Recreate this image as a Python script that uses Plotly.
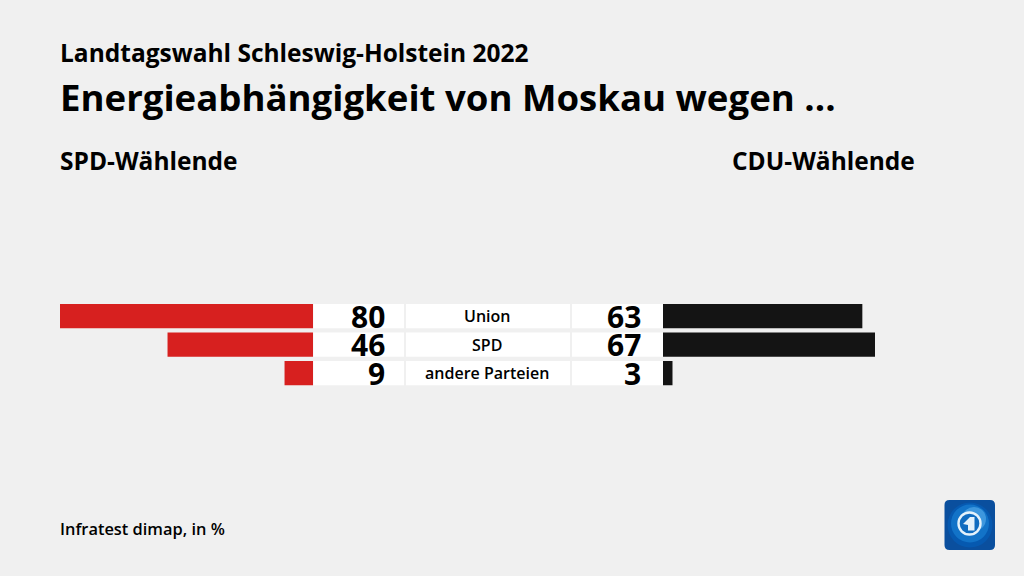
import plotly.graph_objects as go

categories = ["Union", "SPD", "andere Parteien"]
spd_values = [80, 46, 9]
cdu_values = [63, 67, 3]
title_top = "Landtagswahl Schleswig-Holstein 2022"
title_main = "Energieabhängigkeit von Moskau wegen ..."
left_head = "SPD-Wählende"
right_head = "CDU-Wählende"
source = "Infratest dimap, in %"

W, H = 1024, 576
FONT = "Open Sans"
BG = "#f0f0f0"


def px(x):
    return x / W


def py(y):
    return 1 - y / H


fig = go.Figure()
fig.add_trace(go.Bar(y=categories, x=spd_values, orientation="h", xaxis="x", yaxis="y",
                     marker=dict(color="#d7201f", line_width=0), showlegend=False, hoverinfo="skip"))
fig.add_trace(go.Bar(y=categories, x=cdu_values, orientation="h", xaxis="x2", yaxis="y",
                     marker=dict(color="#141414", line_width=0), showlegend=False, hoverinfo="skip"))

shapes = []
annotations = []


def text(x, y, s, size, weight=600, anchor="left", xref="paper", yref="paper", color="#000000"):
    annotations.append(dict(x=x, y=y, text=s, xref=xref, yref=yref, showarrow=False,
                            xanchor=anchor, yanchor="middle", align=anchor,
                            borderpad=0, borderwidth=0,
                            font=dict(family=FONT, size=size, color=color, weight=weight)))


# white cells behind the numbers and labels
for i, cat in enumerate(categories):
    for x0, x1 in [(313.5, 404), (406, 570), (572, 663)]:
        shapes.append(dict(type="rect", xref="paper", yref="y", layer="below",
                           x0=px(x0), x1=px(x1), y0=i - 0.423, y1=i + 0.423,
                           fillcolor="#ffffff", line_width=0))
    text(px(487), cat, cat, 16, 600, "center", yref="y")
    text(px(385), cat, str(spd_values[i]), 30, 700, "right", yref="y")
    text(px(641), cat, str(cdu_values[i]), 30, 700, "right", yref="y")

text(px(59.5), py(52), title_top, 24.5, 700)
text(px(59.5), py(97), title_main, 36.6, 700)
text(px(59.5), py(161), left_head, 24.5, 700)
text(px(915), py(161), right_head, 24.5, 700, anchor="right")
text(px(59.5), py(528), source, 16.4)


# logo
def circle(cx, cy, r, color=None, line=None, lw=0):
    shapes.append(dict(type="circle", xref="paper", yref="paper",
                       x0=px(cx - r), x1=px(cx + r), y0=py(cy + r), y1=py(cy - r),
                       fillcolor=color if color else "rgba(0,0,0,0)",
                       line=dict(color=line or "rgba(0,0,0,0)", width=lw)))


lx0, lx1, ly0, ly1, rad = 944.5, 995, 500, 550, 5
pts = [(lx0 + rad, ly0), (lx1 - rad, ly0), (lx1, ly0 + rad), (lx1, ly1 - rad),
       (lx1 - rad, ly1), (lx0 + rad, ly1), (lx0, ly1 - rad), (lx0, ly0 + rad)]
P = [(px(a), py(b)) for a, b in pts]
path = (f"M{P[0][0]},{P[0][1]} L{P[1][0]},{P[1][1]} Q{px(lx1)},{py(ly0)} {P[2][0]},{P[2][1]} "
        f"L{P[3][0]},{P[3][1]} Q{px(lx1)},{py(ly1)} {P[4][0]},{P[4][1]} "
        f"L{P[5][0]},{P[5][1]} Q{px(lx0)},{py(ly1)} {P[6][0]},{P[6][1]} "
        f"L{P[7][0]},{P[7][1]} Q{px(lx0)},{py(ly0)} {P[0][0]},{P[0][1]} Z")
shapes.append(dict(type="path", xref="paper", yref="paper", path=path, fillcolor="#0a4f9e", line_width=0))
circle(970, 525, 22.5, "#0659b0")
circle(970, 523.5, 19, "#1273c8")
circle(974, 519, 12, "#3d97de")
circle(969.5, 523.5, 11, "#0f6cc0", "#e4f2fb", 2.4)
tri = [(963, 524), (970, 517), (974.5, 517), (974.5, 530.5), (968, 530.5), (968, 525)]
T = [(px(a), py(b)) for a, b in tri]
shapes.append(dict(type="path", xref="paper", yref="paper",
                   path="M" + " L".join(f"{a},{b}" for a, b in T) + " Z",
                   fillcolor="#e4f2fb", line_width=0))

fig.update_layout(
    width=W, height=H, autosize=False,
    margin=dict(l=0, r=0, t=0, b=0),
    paper_bgcolor=BG, plot_bgcolor=BG,
    barmode="overlay", bargap=0.155,
    xaxis=dict(domain=[px(60), px(313)], range=[80, 0], visible=False, fixedrange=True),
    xaxis2=dict(domain=[px(663), px(875)], range=[0, 67], visible=False, fixedrange=True, anchor="y"),
    yaxis=dict(domain=[py(387.4), py(301.9)], range=[2.5, -0.5], type="category",
               categoryorder="array", categoryarray=categories, visible=False, fixedrange=True),
    shapes=shapes, annotations=annotations,
)
fig.write_html("out.html", config=dict(displayModeBar=False),
               post_script="document.body.style.margin='0';document.body.style.background='#f0f0f0';document.documentElement.style.overflow='hidden';")
